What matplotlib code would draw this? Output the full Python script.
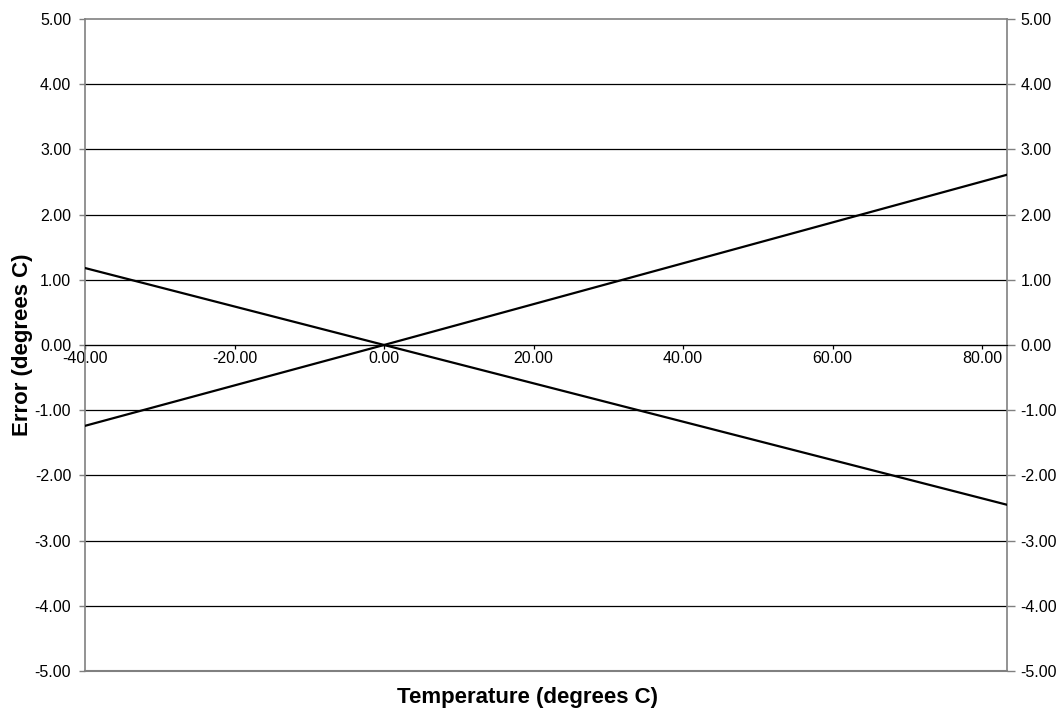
import matplotlib.pyplot as plt
from matplotlib.ticker import FormatStrFormatter

plt.rcParams['font.family'] = ['Liberation Sans', 'DejaVu Sans']

# data
temperature = [-40.0, 0.0, 83.3]
error_a = [-1.24, 0.0, 2.61]
error_b = [1.18, 0.0, -2.45]
x_ticks = [-40, -20, 0, 20, 40, 60, 80]
y_ticks = [-5, -4, -3, -2, -1, 0, 1, 2, 3, 4, 5]

fig = plt.figure(figsize=(10.59, 7.08), dpi=100)
ax = fig.add_axes([0.0803, 0.0523, 0.8704, 0.9209])

grey = '#808080'

for yv in y_ticks:
    if yv in (-5, 5):
        continue
    ax.axhline(yv, color='black', lw=0.9, zorder=1)
ax.axhline(5, color=grey, lw=1.2, zorder=1, clip_on=False)
ax.axhline(-5, color=grey, lw=1.5, zorder=1, clip_on=False)

ax.plot(temperature, error_a, color='black', lw=1.6, zorder=3)
ax.plot(temperature, error_b, color='black', lw=1.6, zorder=3)

ax.set_xlim(temperature[0], temperature[-1])
ax.set_ylim(-5, 5)

# x axis sits on zero
ax.spines['bottom'].set_position(('data', 0))
ax.spines['bottom'].set_color('black')
ax.spines['top'].set_visible(False)
for s in ('left', 'right'):
    ax.spines[s].set_color(grey)
    ax.spines[s].set_linewidth(1.2)

ax.set_xticks(x_ticks)
ax.xaxis.set_major_formatter(FormatStrFormatter('%.2f'))
ax.tick_params(axis='x', direction='out', length=3, width=0.9, colors='black',
               labelsize=11.5, pad=1)

ax.set_yticks(y_ticks)
ax.yaxis.set_major_formatter(FormatStrFormatter('%.2f'))
ax.tick_params(axis='y', which='both', left=True, right=True, labelleft=True,
               labelright=True, direction='out', width=1.0, length=4, pad=6,
               color=grey, labelcolor='black', labelsize=11.5)
for t in ax.yaxis.get_major_ticks():
    t.tick2line.set_markersize(6)

fig.text(0.021, 0.5127, 'Error (degrees C)', rotation=90, ha='center', va='center',
         fontsize=16, fontweight='bold')
fig.text(0.4985, 0.0155, 'Temperature (degrees C)', ha='center', va='center',
         fontsize=16, fontweight='bold')

fig.savefig('out.png', dpi=100)
